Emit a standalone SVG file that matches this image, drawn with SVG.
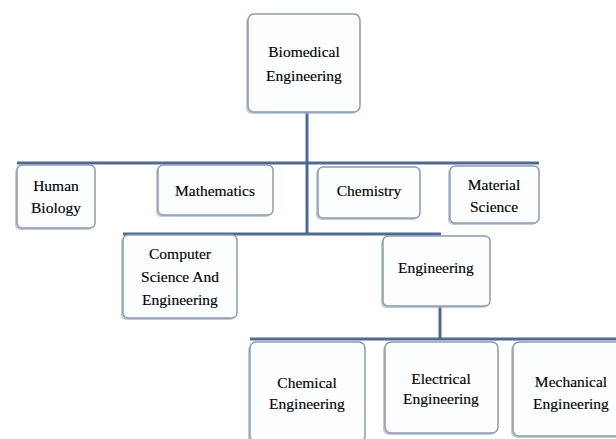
<svg xmlns="http://www.w3.org/2000/svg" width="616" height="439" viewBox="0 0 616 439">
<style>
.sh{fill:#a9b5c6;opacity:0.7}
.bx{fill:#fdfeff;stroke:#8d9bb0;stroke-width:1.5}
.t{font-family:"Liberation Serif","Times New Roman",serif;font-size:15.5px;fill:#000000;stroke:#000000;stroke-width:0.15;text-anchor:middle}
.c{stroke:#4e6a92;stroke-width:3;fill:none}
</style>
<rect width="616" height="439" fill="#ffffff"/>
<g id="connectors">
<line class="c" x1="307" y1="112" x2="307" y2="235"/>
<line class="c" x1="17" y1="163" x2="539" y2="163"/>
<line class="c" x1="123" y1="234" x2="441" y2="234"/>
<line class="c" x1="440" y1="306" x2="440" y2="340"/>
<line class="c" x1="250" y1="339" x2="616" y2="339"/>
</g>
<g id="biomedical">
<rect class="sh" x="246" y="16" width="112" height="98" rx="6"/>
<rect class="bx" x="248" y="14" width="112" height="98" rx="6"/>
<text class="t" x="304" y="57">Biomedical</text>
<text class="t" x="304" y="81">Engineering</text>
</g>
<g id="human-biology">
<rect class="sh" x="15" y="167" width="78" height="63" rx="5"/>
<rect class="bx" x="17" y="165" width="78" height="63" rx="5"/>
<text class="t" x="56" y="191">Human</text>
<text class="t" x="56" y="213">Biology</text>
</g>
<g id="mathematics">
<rect class="sh" x="156" y="167" width="115" height="50" rx="5"/>
<rect class="bx" x="158" y="165" width="115" height="50" rx="5"/>
<text class="t" x="215" y="196">Mathematics</text>
</g>
<g id="chemistry">
<rect class="sh" x="316" y="169" width="102" height="51" rx="5"/>
<rect class="bx" x="318" y="167" width="102" height="51" rx="5"/>
<text class="t" x="369" y="196">Chemistry</text>
</g>
<g id="material-science">
<rect class="sh" x="448" y="168" width="89" height="57" rx="5"/>
<rect class="bx" x="450" y="166" width="89" height="57" rx="5"/>
<text class="t" x="494" y="190">Material</text>
<text class="t" x="494" y="212">Science</text>
</g>
<g id="computer-science">
<rect class="sh" x="121" y="237" width="114" height="83" rx="5"/>
<rect class="bx" x="123" y="235" width="114" height="83" rx="5"/>
<text class="t" x="180" y="259">Computer</text>
<text class="t" x="180" y="282">Science And</text>
<text class="t" x="180" y="305">Engineering</text>
</g>
<g id="engineering">
<rect class="sh" x="381" y="238" width="107" height="70" rx="5"/>
<rect class="bx" x="383" y="236" width="107" height="70" rx="5"/>
<text class="t" x="436" y="273">Engineering</text>
</g>
<g id="chemical-engineering">
<rect class="sh" x="248" y="344" width="115" height="100" rx="6"/>
<rect class="bx" x="250" y="342" width="115" height="100" rx="6"/>
<text class="t" x="307" y="388">Chemical</text>
<text class="t" x="307" y="409">Engineering</text>
</g>
<g id="electrical-engineering">
<rect class="sh" x="383" y="344" width="113" height="91" rx="6"/>
<rect class="bx" x="385" y="342" width="113" height="91" rx="6"/>
<text class="t" x="441" y="384">Electrical</text>
<text class="t" x="441" y="404">Engineering</text>
</g>
<g id="mechanical-engineering">
<rect class="sh" x="511" y="344" width="117" height="94" rx="6"/>
<rect class="bx" x="513" y="342" width="117" height="94" rx="6"/>
<text class="t" x="571" y="387">Mechanical</text>
<text class="t" x="571" y="409">Engineering</text>
</g>
</svg>
